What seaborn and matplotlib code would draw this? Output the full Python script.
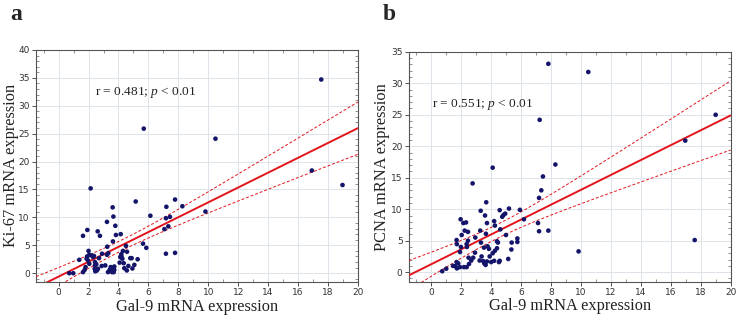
import numpy as np
import pandas as pd
import matplotlib
matplotlib.use('Agg')
import matplotlib.pyplot as plt
from matplotlib.ticker import MultipleLocator
import seaborn as sns

# panel a: Gal-9 vs Ki-67
gal9_a = [0.71, 0.98, 1.38, 1.63, 1.74, 1.80, 1.87, 1.90, 1.92, 1.63,
          2.00, 1.96, 2.05, 2.19, 2.30, 2.36, 2.43, 2.43, 2.41, 2.45,
          2.56, 2.63, 2.61, 2.76, 2.70, 2.90, 2.88, 3.12, 3.23, 3.25,
          3.32, 3.30, 3.41, 3.48, 3.57, 3.61, 3.72, 3.72, 3.68, 3.63,
          3.61, 3.66, 3.79, 3.83, 4.08, 4.12, 4.15, 4.19, 4.26, 4.30,
          4.35, 4.39, 4.56, 4.50, 4.57, 4.66, 4.79, 4.88, 4.93, 5.06,
          5.28, 5.15, 5.64, 5.86, 5.69, 6.13, 7.07, 7.17, 7.20, 7.33,
          7.44, 7.78, 7.17, 7.78, 8.27, 9.81, 10.48, 16.92, 17.55, 18.97,
          2.14, 3.23, 2.05, 2.52, 4.20]
ki67 = [0.0, 0.0, 2.4, 0.2, 0.6, 1.1, 2.6, 3.0, 7.75, 6.7,
        4.0, 2.3, 1.7, 3.2, 2.9, 3.1, 2.0, 1.4, 0.8, 0.35,
        0.5, 0.8, 7.5, 6.7, 2.7, 3.5, 1.3, 1.4, 3.3, 4.75,
        3.6, 0.2, 0.6, 1.1, 0.2, 0.9, 0.6, 1.2, 0.2, 5.7,
        11.8, 10.15, 8.5, 6.85, 1.9, 2.9, 7.0, 3.4, 2.6, 4.0,
        1.8, 0.9, 0.5, 4.9, 3.85, 1.3, 2.7, 2.7, 0.85, 1.5,
        2.5, 12.85, 5.3, 4.55, 25.9, 10.3, 7.9, 9.85, 11.9, 8.4,
        10.1, 13.2, 3.5, 3.65, 12.0, 11.05, 24.1, 18.4, 34.7, 15.8,
        15.2, 9.2, 3.3, 1.6, 3.0]

# panel b: Gal-9 vs PCNA
gal9_b = [0.73, 1.00, 1.45, 1.60, 1.69, 1.80, 1.71, 1.92, 2.18, 2.36,
          2.52, 1.69, 1.71, 1.92, 1.98, 2.03, 1.96, 2.14, 2.23, 2.32,
          2.36, 2.38, 2.45, 2.45, 2.49, 2.67, 2.76, 2.80, 2.92, 2.94,
          3.23, 3.27, 3.30, 3.32, 3.36, 3.47, 3.52, 3.54, 3.59, 3.63,
          3.65, 3.67, 3.72, 3.72, 3.76, 3.85, 3.90, 4.00, 4.10, 4.10,
          4.20, 4.20, 4.25, 4.25, 4.39, 4.39, 4.45, 4.52, 4.57, 4.57,
          4.61, 4.74, 4.83, 4.94, 4.99, 5.14, 5.19, 5.35, 5.37, 5.75,
          5.75, 5.92, 6.19, 7.13, 7.20, 7.20, 7.24, 7.35, 7.46, 7.82,
          7.82, 8.29, 9.84, 10.49, 16.97, 17.60, 19.00]
pcna = [0.15, 0.55, 1.0, 0.95, 1.6, 1.4, 0.6, 0.8, 0.8, 0.8,
        1.3, 5.1, 4.45, 3.2, 4.0, 5.9, 8.4, 7.8, 6.6, 7.9,
        4.45, 4.0, 6.4, 5.0, 2.3, 1.85, 14.1, 2.3, 3.1, 5.5,
        1.85, 6.6, 9.75, 4.7, 2.5, 1.75, 3.9, 1.4, 9.0, 1.15,
        6.1, 11.1, 7.8, 1.7, 4.1, 3.7, 2.5, 1.6, 3.0, 16.6,
        8.1, 1.8, 7.4, 3.4, 4.9, 3.8, 4.7, 1.6, 9.85, 1.8,
        6.8, 8.8, 9.1, 9.3, 5.9, 2.1, 10.1, 3.6, 4.7, 4.8,
        5.35, 9.9, 8.4, 7.8, 6.5, 11.8, 24.2, 13.0, 15.2, 33.1,
        6.6, 17.1, 3.3, 31.8, 20.9, 5.1, 25.0]

panels = [
    ('a', gal9_a, ki67, 'Ki-67 mRNA expression', 40, 'r = 0.481; ', (2.45, 32.4), -0.054),
    ('b', gal9_b, pcna, 'PCNA mRNA expression', 35, 'r = 0.551; ', (0.07, 26.6), -0.059),
]

sns.set_theme(style='white')
plt.rcParams['font.family'] = ['Liberation Serif', 'DejaVu Serif']
plt.rcParams['mathtext.fontset'] = 'custom'
plt.rcParams['mathtext.rm'] = 'Liberation Serif'
plt.rcParams['mathtext.it'] = 'Liberation Serif:italic'

fig = plt.figure(figsize=(7.38, 3.2), dpi=100)
axes = [fig.add_axes([0.049, 0.12, 0.436, 0.724]),
        fig.add_axes([0.554, 0.12, 0.436, 0.718])]

for ax, (letter, xs, ys, ylab, ytop, rtxt, tpos, ylx) in zip(axes, panels):
    df = pd.DataFrame({'gal9': xs, 'y': ys})
    ax.grid(True, color='#dfe4ea', lw=0.7)
    ax.set_axisbelow(True)

    # linear fit with 95% confidence band of the mean
    x = df['gal9'].values
    y = df['y'].values
    n = len(x)
    b1, b0 = np.polyfit(x, y, 1)
    resid = y - (b0 + b1 * x)
    s = np.sqrt(np.sum(resid ** 2) / (n - 2))
    sxx = np.sum((x - x.mean()) ** 2)
    xx = np.linspace(-1.5, 20, 200)
    yy = b0 + b1 * xx
    se = s * np.sqrt(1 / n + (xx - x.mean()) ** 2 / sxx)
    ax.plot(xx, yy, color='#e3141c', lw=1.4, zorder=3)
    ax.plot(xx, yy + 1.99 * se, color='#e3141c', lw=0.7, ls=(0, (3, 2)), zorder=3)
    ax.plot(xx, yy - 1.99 * se, color='#e3141c', lw=0.7, ls=(0, (3, 2)), zorder=3)

    sns.scatterplot(data=df, x='gal9', y='y', ax=ax, color='#14146b', s=11,
                    edgecolor='none', zorder=4)

    ax.set_xlim(-1.5, 20)
    ax.set_ylim(-1.5, ytop)
    ax.xaxis.set_major_locator(MultipleLocator(2))
    ax.yaxis.set_major_locator(MultipleLocator(5))
    ax.xaxis.set_minor_locator(MultipleLocator(1))
    ax.yaxis.set_minor_locator(MultipleLocator(1))
    ax.tick_params(which='major', direction='out', length=3, width=0.6,
                   labelsize=6.5, colors='#333333', pad=1.5,
                   bottom=True, left=True)
    ax.tick_params(which='minor', direction='in', length=2, width=0.5,
                   color='#666666', bottom=True, left=True, top=True, right=True)
    for lab in ax.get_xticklabels() + ax.get_yticklabels():
        lab.set_family('DejaVu Sans')
    for sp in ax.spines.values():
        sp.set_color('#555555')
        sp.set_linewidth(0.8)

    ax.set_xlabel('Gal-9 mRNA expression', fontsize=11.8, color='#222222')
    ax.set_ylabel(ylab, fontsize=11.8, color='#222222')
    ax.xaxis.set_label_coords(0.5, -0.073)
    ax.yaxis.set_label_coords(ylx, 0.5)
    ax.text(tpos[0], tpos[1], rtxt + r'$p$ < 0.01', fontsize=9.6, color='#222222',
            va='center', ha='left')

fig.text(0.014, 0.955, 'a', fontsize=17, fontweight='bold', va='center', ha='left')
fig.text(0.519, 0.955, 'b', fontsize=17, fontweight='bold', va='center', ha='left')

fig.savefig('out.png', dpi=100)
